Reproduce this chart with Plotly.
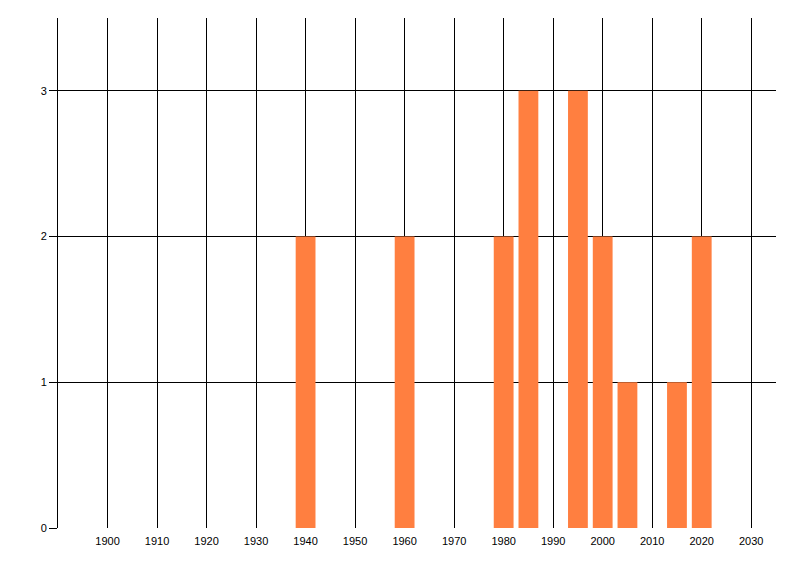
import plotly.graph_objects as go

# year bins and counts
years = [1940, 1960, 1980, 1985, 1995, 2000, 2005, 2015, 2020]
counts = [2, 2, 2, 3, 3, 2, 1, 1, 2]
x_ticks = list(range(1900, 2031, 10))
y_ticks = [0, 1, 2, 3]

fig = go.Figure()

fig.add_trace(go.Bar(
    x=years,
    y=counts,
    width=4,
    marker=dict(color='#FF7F40', line=dict(width=0)),
    hoverinfo='x+y',
))

# the page body adds an 8px offset, so margins are trimmed to match
fig.update_layout(
    width=800,
    height=576,
    paper_bgcolor='white',
    plot_bgcolor='white',
    showlegend=False,
    font=dict(family='Liberation Sans, Arial, sans-serif', size=11, color='black'),
    margin=dict(l=50, r=32, t=10, b=56),
    xaxis=dict(
        range=[1890, 2035],
        tickvals=x_ticks,
        ticktext=[str(v) for v in x_ticks],
        showgrid=True,
        gridcolor='black',
        gridwidth=1,
        ticks='',
        ticklabelstandoff=5,
        showline=False,
        zeroline=False,
    ),
    yaxis=dict(
        range=[0, 3.5],
        tickvals=y_ticks,
        showgrid=True,
        gridcolor='black',
        gridwidth=1,
        ticks='outside',
        ticklen=8,
        tickcolor='black',
        tickwidth=1,
        ticklabelstandoff=0,
        showline=True,
        linecolor='black',
        linewidth=1,
        zeroline=False,
    ),
)

fig.write_html("out.html")
